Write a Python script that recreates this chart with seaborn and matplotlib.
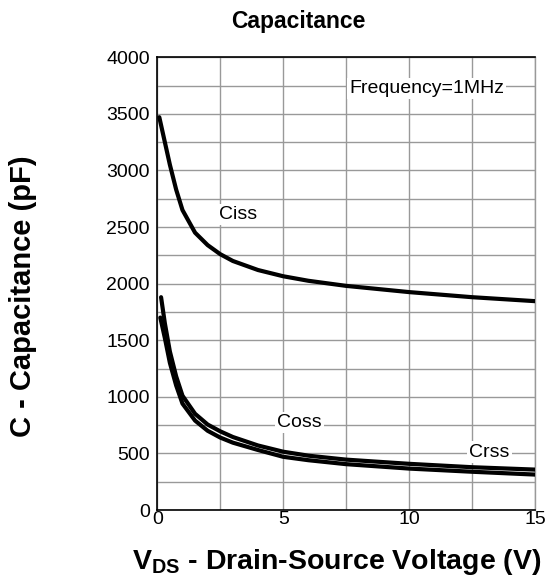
import numpy as np
import pandas as pd
import matplotlib
matplotlib.use("Agg")
import matplotlib.pyplot as plt
import seaborn as sns

# values
vds_ciss = [0.08, 0.3, 0.5, 0.75, 1.0, 1.5, 2.0, 2.5, 3.0, 4.0, 5.0, 6.0, 7.5, 10.0, 12.5, 15.0]
ciss = [3470, 3250, 3050, 2830, 2650, 2450, 2340, 2260, 2200, 2120, 2065, 2025, 1980, 1925, 1880, 1845]

vds_coss = [0.15, 0.3, 0.5, 0.75, 1.0, 1.5, 2.0, 2.5, 3.0, 4.0, 5.0, 6.0, 7.5, 10.0, 12.5, 15.0]
coss = [1880, 1650, 1400, 1180, 1010, 850, 755, 695, 645, 570, 515, 480, 445, 408, 378, 357]

vds_crss = [0.12, 0.3, 0.5, 0.75, 1.0, 1.5, 2.0, 2.5, 3.0, 4.0, 5.0, 6.0, 7.5, 10.0, 12.5, 15.0]
crss = [1700, 1520, 1300, 1100, 940, 790, 700, 640, 595, 530, 470, 440, 405, 366, 338, 313]

sns.set_style("white")
plt.rcParams['font.family'] = ['Liberation Sans', 'DejaVu Sans']
plt.rcParams['mathtext.fontset'] = 'custom'
plt.rcParams['mathtext.rm'] = 'Liberation Sans'
plt.rcParams['mathtext.bf'] = 'Liberation Sans:bold'
plt.rcParams['text.color'] = 'black'
plt.rcParams['xtick.color'] = 'black'
plt.rcParams['ytick.color'] = 'black'

fig = plt.figure(figsize=(5.49, 5.82), dpi=100)
ax = fig.add_axes([0.2865, 0.1237, 0.688, 0.778])

for xs, ys in [(vds_ciss, ciss), (vds_coss, coss), (vds_crss, crss)]:
    df = pd.DataFrame({'vds': xs, 'c': ys})
    sns.lineplot(data=df, x='vds', y='c', ax=ax, color='black', linewidth=3.0, zorder=3)

ax.set_xlim(0, 15)
ax.set_ylim(0, 4000)
ax.set_xticks([0, 5, 10, 15])
ax.set_xticks([2.5, 7.5, 12.5], minor=True)
ax.set_yticks(np.arange(0, 4001, 500))
ax.set_yticks(np.arange(250, 4000, 500), minor=True)
ax.grid(True, which='both', color='#999999', linewidth=1.0, zorder=0)
ax.tick_params(which='both', length=0, labelsize=14, labelcolor='black')
ax.tick_params(axis='y', pad=5.5)
ax.tick_params(axis='x', pad=1)
ax.set_xlabel('')
ax.set_ylabel('')

for side in ['left', 'bottom', 'top']:
    ax.spines[side].set_color('black')
    ax.spines[side].set_linewidth(1.2)
ax.spines['right'].set_color('#999999')
ax.spines['right'].set_linewidth(1.0)

box = dict(facecolor='white', edgecolor='none', pad=1.5)
ax.text(3.2, 2612, 'Ciss', fontsize=14, ha='center', va='center', bbox=box, zorder=4)
ax.text(5.66, 776, 'Coss', fontsize=14, ha='center', va='center', bbox=box, zorder=4)
ax.text(13.2, 512, 'Crss', fontsize=14, ha='center', va='center', bbox=box, zorder=4)
ax.text(10.7, 3724, 'Frequency=1MHz', fontsize=14, ha='center', va='center', bbox=box, zorder=4)

fig.text(298 / 549, 1 - 28 / 582, 'Capacitance', fontsize=16.5, fontweight='bold',
         ha='center', va='baseline')
fig.text(23 / 549, 1 - 296 / 582, 'C - Capacitance (pF)', fontsize=21, fontweight='bold',
         ha='center', va='center', rotation=90)
fig.text(337 / 549, 1 - 569 / 582, r'$\mathbf{V_{DS}}$ - Drain-Source Voltage (V)', fontsize=20.5,
         fontweight='bold', ha='center', va='baseline')

fig.savefig('out.png', dpi=100)
